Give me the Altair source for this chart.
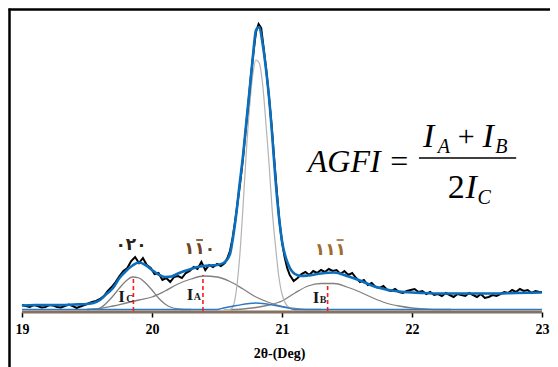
import altair as alt
import pandas as pd

# ---------------- data (2θ in degrees, intensity in arbitrary units) ----------------
obs_tt = [19.00, 19.03, 19.06, 19.09, 19.12, 19.15, 19.18, 19.21, 19.24, 19.27,
          19.30, 19.33, 19.36, 19.39, 19.42, 19.45, 19.48, 19.51, 19.54, 19.57,
          19.60, 19.63, 19.66, 19.69, 19.72, 19.75, 19.78, 19.81, 19.84, 19.87,
          19.90, 19.93, 19.96, 19.99, 20.02, 20.05, 20.08, 20.11, 20.14, 20.17,
          20.20, 20.23, 20.26, 20.29, 20.32, 20.35, 20.38, 20.41, 20.44, 20.47,
          20.50, 20.53, 20.56,
          20.58, 20.60, 20.62, 20.64, 20.66, 20.68, 20.70, 20.72, 20.74, 20.76,
          20.78, 20.80, 20.82, 20.84, 20.86, 20.88, 20.90, 20.92, 20.94, 20.96,
          20.98, 21.00, 21.02, 21.04, 21.06,
          21.09, 21.12, 21.15, 21.18, 21.21, 21.24, 21.27, 21.30, 21.33, 21.36,
          21.39, 21.42, 21.45, 21.48, 21.51, 21.54, 21.57, 21.60, 21.63, 21.66,
          21.69, 21.72, 21.75, 21.78, 21.81, 21.84, 21.87, 21.90, 21.93, 21.96,
          21.99, 22.02, 22.05, 22.08, 22.11, 22.14, 22.17, 22.20, 22.23, 22.26,
          22.29, 22.32, 22.35, 22.38, 22.41, 22.44, 22.47, 22.50, 22.53, 22.56,
          22.59, 22.62, 22.65, 22.68, 22.71, 22.74, 22.77, 22.80, 22.83, 22.86,
          22.89, 22.92, 22.95, 22.98, 23.00]
obs_i = [6, 5, 4, 6, 5, 3.5, 4, 6, 5.5, 4,
         3.5, 5, 6.5, 5, 3, 4.5, 6, 7.5, 9, 10,
         12, 15, 20, 24, 29, 35, 40, 43, 50, 54,
         48, 53, 46, 43, 37, 38, 31, 33, 29, 34,
         35, 33, 38, 40, 44, 42, 49, 41, 46, 44,
         47, 45, 48,
         53, 60, 73, 90, 110, 130, 153, 180, 206, 234,
         258, 279, 287, 283, 262, 240, 214, 186, 152, 120,
         90, 69, 54, 43, 36,
         30, 33, 37, 39, 36, 40, 38, 41, 39, 42,
         40, 41, 37, 40, 36, 38, 33, 29, 31, 26,
         28, 24, 23, 25, 21, 20, 22, 19, 18, 20,
         21, 22, 19, 20, 17, 19, 16, 17, 15, 18,
         16, 14, 17, 16, 15, 18, 16, 14, 17, 13,
         14, 16, 15, 17, 19, 18, 21, 19, 22, 20,
         21, 18, 20, 19, 19]

fit_tt = [19.00, 19.10, 19.20, 19.30, 19.40, 19.50, 19.55, 19.60, 19.65, 19.70,
          19.75, 19.80, 19.85, 19.90, 19.95, 20.00, 20.05, 20.10, 20.15, 20.20,
          20.25, 20.30, 20.35, 20.40, 20.45, 20.50, 20.55, 20.60, 20.625, 20.65,
          20.675, 20.70, 20.725, 20.75, 20.775, 20.80, 20.825, 20.85, 20.875, 20.90,
          20.925, 20.95, 20.975, 21.00, 21.05, 21.10, 21.15, 21.20, 21.30, 21.40,
          21.50, 21.60, 21.70, 21.80, 21.90, 22.00, 22.10, 22.20, 22.30, 22.40,
          22.60, 22.80, 23.00]
fit_i = [5.5, 6, 6, 6, 6.5, 7, 8, 11, 17, 23,
         33, 40, 45.5, 48.5, 46, 41, 36.5, 34, 34.5, 37.5,
         40, 42, 44, 45, 45.5, 46, 48, 57, 75, 99,
         128, 155, 188, 220, 253, 281, 284, 268, 244, 214,
         175, 131, 96, 70, 46, 37, 35, 35.5, 37.5, 38.5,
         35, 30.5, 25, 21.5, 19.5, 18.5, 18, 17.5, 17.5, 17.5,
         17.5, 18, 18.5]

bg_tt = [19.00, 20.50, 20.55, 20.65, 20.80, 20.95, 21.05, 21.10, 23.00]
bg_i = [1.5, 1.5, 3, 5.5, 8, 5.5, 3, 1.5, 1.5]

main_tt = [20.55, 20.60, 20.625, 20.65, 20.675, 20.70, 20.725, 20.75, 20.775, 20.80,
           20.825, 20.85, 20.875, 20.90, 20.925, 20.95, 20.975, 21.00, 21.05, 21.10, 21.15]
main_i = [1.5, 1.5, 5, 22, 55, 104, 158, 203, 236, 251,
          248, 228, 190, 148, 100, 65, 35, 17, 4, 1.5, 1.5]

ic_tt = [19.50, 19.55, 19.60, 19.65, 19.70, 19.75, 19.80, 19.85, 19.90, 19.95,
         20.00, 20.05, 20.10, 20.15, 20.20, 20.25, 20.30]
ic_i = [1.5, 1.8, 3, 8, 15, 23, 30, 34, 33, 28, 21, 13, 7, 3.5, 2, 1.5, 1.5]

ia_tt = [19.50, 19.60, 19.70, 19.80, 19.90, 20.00, 20.10, 20.20, 20.30, 20.40,
         20.50, 20.60, 20.70, 20.80, 20.90, 21.00, 21.10, 21.20, 21.30]
ia_i = [1.5, 2.5, 5, 8, 11, 14, 20, 27, 32, 35, 34, 29.5, 22, 14, 8.5, 4.5, 2.5, 1.5, 1.5]

ib_tt = [20.60, 20.70, 20.80, 20.90, 21.00, 21.10, 21.20, 21.30, 21.40, 21.50,
         21.60, 21.70, 21.80, 21.90, 22.00, 22.10, 22.20, 22.30]
ib_i = [1.5, 2, 3.5, 6, 10, 18, 25, 27.5, 27.5, 24, 19, 13, 8, 5, 3, 2, 1.5, 1.5]

peak_tt = [19.857, 20.392, 21.351]
peak_top = [34.5, 36.0, 27.5]

x_ticks = [19, 20, 21, 22, 23]

# Miller-index labels (Arabic-Indic digits); the bar over a digit is drawn separately
hkl_text = ["\u0660\u0662\u0660", "\u0661\u0661\u0660", "\u0661\u0661\u0661"]
hkl_tt = [19.838, 20.366, 21.372]
hkl_i = [66, 62, 61]
hkl_color = ["#2e211a", "#6e4422", "#a06a30"]
bar_tt0 = [20.340, 21.420]
bar_tt1 = [20.392, 21.474]
bar_i = [71, 71]

comp_main = ["I", "I", "I"]
comp_sub = ["C", "A", "B"]
comp_main_tt = [19.7405, 20.2672, 21.2366]
comp_sub_tt = [19.8015, 20.3206, 21.2901]
comp_base_i = [9, 11, 8]

# ---------------- chart ----------------
XD = [18.89231, 23.06154]
YD = [-56, 303]
xs = alt.Scale(domain=XD, nice=False, zero=False)
ys = alt.Scale(domain=YD, nice=False, zero=False)


def X(field, axis=None):
    return alt.X(field, type="quantitative", scale=xs, axis=axis)


def Y(field, axis=None):
    return alt.Y(field, type="quantitative", scale=ys, axis=axis)


df_obs = pd.DataFrame({"tt": obs_tt, "i": obs_i})
df_fit = pd.DataFrame({"tt": fit_tt, "i": fit_i})
df_bg = pd.DataFrame({"tt": bg_tt, "i": bg_i})
df_main = pd.DataFrame({"tt": main_tt, "i": main_i})
df_comp = pd.concat([
    pd.DataFrame({"tt": ic_tt, "i": ic_i, "s": "IC"}),
    pd.DataFrame({"tt": ia_tt, "i": ia_i, "s": "IA"}),
    pd.DataFrame({"tt": ib_tt, "i": ib_i, "s": "IB"}),
])
df_peaks = pd.DataFrame({"tt": peak_tt, "top": peak_top, "zero": [0, 0, 0]})
df_base = pd.DataFrame({"a": [x_ticks[0]], "b": [x_ticks[-1]], "y": [-1]})
df_hkl = pd.DataFrame({"tt": hkl_tt, "i": hkl_i, "t": hkl_text, "c": hkl_color})
df_hbar = pd.DataFrame({"a": bar_tt0, "b": bar_tt1, "y": bar_i, "c": hkl_color[1:]})
df_cm = pd.DataFrame({"tt": comp_main_tt, "i": comp_base_i, "t": comp_main})
df_cs = pd.DataFrame({"tt": comp_sub_tt, "i": comp_base_i, "t": comp_sub})

bottom_axis = alt.Axis(orient="bottom", values=x_ticks, format="d", domain=False,
                       ticks=True, tickColor="black", tickSize=5, tickWidth=1.5,
                       labelFont="Liberation Serif", labelFontSize=14,
                       labelFontWeight="bold", labelColor="black", labelPadding=5,
                       title="2θ-(Deg)", titleFont="Liberation Serif", titleFontSize=14,
                       titleFontWeight="bold", titleColor="black", titlePadding=10,
                       offset=-55, grid=False)
top_axis = alt.Axis(orient="top", domain=True, domainColor="black", domainWidth=2.5,
                    ticks=False, labels=False, title=None, grid=False, offset=-1)
left_axis = alt.Axis(orient="left", domain=True, domainColor="black", domainWidth=2.5,
                     ticks=False, labels=False, title=None, grid=False, offset=-1)

comps = alt.Chart(df_comp).mark_line(color="#808080", strokeWidth=1.3, interpolate="monotone").encode(
    x=X("tt", top_axis), y=Y("i", left_axis), detail="s:N")
main = alt.Chart(df_main).mark_line(color="#b3b3b3", strokeWidth=1.2, interpolate="monotone").encode(
    x=X("tt"), y=Y("i"))
base = alt.Chart(df_base).mark_rule(color="#86705f", strokeWidth=3).encode(
    x=X("a", bottom_axis), x2="b", y=Y("y"))
bg = alt.Chart(df_bg).mark_line(color="#2e78c0", strokeWidth=1.4, interpolate="monotone").encode(
    x=X("tt"), y=Y("i"))
rules = alt.Chart(df_peaks).mark_rule(color="#ff1a1a", strokeWidth=1.6, strokeDash=[4, 3]).encode(
    x=X("tt"), y=Y("zero"), y2="top")
obs = alt.Chart(df_obs).mark_line(color="black", strokeWidth=2).encode(
    x=X("tt"), y=Y("i"))
fit = alt.Chart(df_fit).mark_line(color="#0a6ebd", strokeWidth=2.6, interpolate="monotone").encode(
    x=X("tt"), y=Y("i"))

hkl = alt.Chart(df_hkl).mark_text(font="DejaVu Sans", fontSize=17, fontWeight="bold",
                                  align="center", baseline="middle").encode(
    x=X("tt"), y=Y("i"), text="t:N", color=alt.Color("c:N", scale=None))
hbar = alt.Chart(df_hbar).mark_rule(strokeWidth=1.6).encode(
    x=X("a"), x2="b", y=Y("y"), color=alt.Color("c:N", scale=None))
cm = alt.Chart(df_cm).mark_text(font="Liberation Serif", fontSize=17, fontWeight="bold",
                                color="#1a1a1a", align="left", baseline="alphabetic").encode(
    x=X("tt"), y=Y("i"), text="t:N")
cs = alt.Chart(df_cs).mark_text(font="Liberation Serif", fontSize=10, fontWeight="bold",
                                color="#1a1a1a", align="left", baseline="alphabetic").encode(
    x=X("tt"), y=Y("i"), text="t:N")

# formula AGFI = (I_A + I_B) / (2 I_C), placed in data coordinates
f_it = pd.DataFrame({
    "t": ["AGFI", "I", "A", "I", "B", "I", "C"],
    "tt": [21.1985, 22.0840, 22.1985, 22.5420, 22.6412, 22.4122, 22.5038],
    "i": [139, 164, 158, 164, 158, 113, 107],
    "fs": [32, 34, 20, 34, 20, 34, 20],
})
f_rg = pd.DataFrame({
    "t": ["=", "+", "2"],
    "tt": [21.8321, 22.3511, 22.2748],
    "i": [139, 165, 113],
    "fs": [32, 30, 34],
})
f_bar = pd.DataFrame({"a": [22.0534], "b": [22.8015], "y": [153]})

fit_italic = alt.Chart(f_it).mark_text(font="Liberation Serif", fontStyle="italic", color="black",
                                       align="left", baseline="alphabetic").encode(
    x=X("tt"), y=Y("i"), text="t:N", size=alt.Size("fs:Q", scale=None, legend=None))
fit_reg = alt.Chart(f_rg).mark_text(font="Liberation Serif", color="black",
                                    align="left", baseline="alphabetic").encode(
    x=X("tt"), y=Y("i"), text="t:N", size=alt.Size("fs:Q", scale=None, legend=None))
fbar = alt.Chart(f_bar).mark_rule(color="black", strokeWidth=1.5).encode(
    x=X("a"), x2="b", y=Y("y"))

chart = alt.layer(
    comps, main, base, bg, rules, obs, fit, hkl, hbar, cm, cs, fit_italic, fit_reg, fbar
).resolve_axis(x="independent", y="independent").properties(
    width=542, height=359, padding=0,
    autosize=alt.AutoSizeParams(type="none"),
    background="white",
).configure_view(stroke=None)

chart.save("out.html", embed_options={"renderer": "svg", "actions": False})
